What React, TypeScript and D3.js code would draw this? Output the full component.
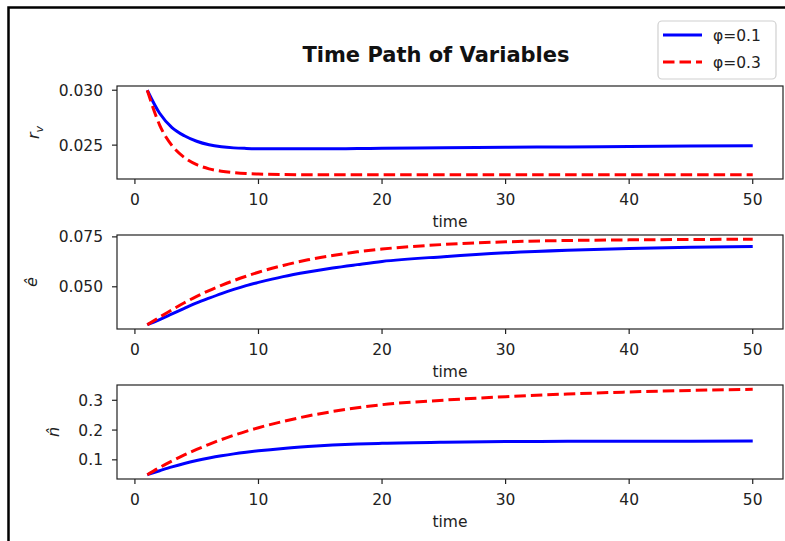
import React from 'react';
import * as d3 from 'd3';

// time steps (denser where the curves bend)
const times = [1, 2, 3, 4, 5, 6, 7, 8, 9, 10, 12, 14, 16, 18, 20, 25, 30, 35, 40, 45, 50];

// r_v
const rvLow = [0.0300, 0.0279, 0.0266, 0.02585, 0.02535, 0.02503, 0.02485, 0.02475, 0.0247, 0.02467, 0.02466, 0.02466, 0.02467, 0.02469, 0.02471, 0.02476, 0.0248, 0.02484, 0.02488, 0.02491, 0.02494];
const rvHigh = [0.0300, 0.02683, 0.02496, 0.02387, 0.02322, 0.02284, 0.02262, 0.02249, 0.02241, 0.02237, 0.02232, 0.0223, 0.0223, 0.0223, 0.0223, 0.0223, 0.0223, 0.0223, 0.0223, 0.0223, 0.0223];

// e hat
const eLow = [0.0310, 0.0336, 0.0364, 0.0392, 0.0419, 0.0443, 0.0466, 0.0487, 0.0506, 0.0522, 0.0551, 0.0574, 0.0594, 0.0611, 0.0627, 0.0651, 0.0670, 0.0683, 0.0692, 0.0698, 0.0702];
const eHigh = [0.0310, 0.0348, 0.0385, 0.0420, 0.0452, 0.0481, 0.0507, 0.0531, 0.0553, 0.0573, 0.0607, 0.0635, 0.0657, 0.0675, 0.0689, 0.0712, 0.0725, 0.0732, 0.0735, 0.0737, 0.0738];

// n hat
const nLow = [0.050, 0.0635, 0.0765, 0.0878, 0.0975, 0.1060, 0.1135, 0.1200, 0.1255, 0.1303, 0.1383, 0.1445, 0.1495, 0.1530, 0.1556, 0.1593, 0.1612, 0.1621, 0.1626, 0.1628, 0.1630];
const nHigh = [0.050, 0.0742, 0.0961, 0.1164, 0.1350, 0.1521, 0.1680, 0.1825, 0.1957, 0.2078, 0.2291, 0.2473, 0.2624, 0.2750, 0.2852, 0.3005, 0.3120, 0.3210, 0.3280, 0.3330, 0.3370];

const xTicks = [0, 10, 20, 30, 40, 50];
const rvTicks = [0.025, 0.030];
const eTicks = [0.050, 0.075];
const nTicks = [0.1, 0.2, 0.3];
const legendLabels = ['φ=0.1', 'φ=0.3'];

const W = 785;
const H = 541;
const left = 117;
const right = 783;
const font = "'DejaVu Sans', sans-serif";

const panels = [
  { top: 86, bottom: 179, low: rvLow, high: rvHigh, ticks: rvTicks, fmt: d3.format('.3f'), label: 'rv', lx: 33 },
  { top: 235, bottom: 329, low: eLow, high: eHigh, ticks: eTicks, fmt: d3.format('.3f'), label: 'e', lx: 31 },
  { top: 385, bottom: 479, low: nLow, high: nHigh, ticks: nTicks, fmt: d3.format('.1f'), label: 'n', lx: 53 },
];

const x = d3.scaleLinear().domain([1 - 49 * 0.05, 50 + 49 * 0.05]).range([left, right]);

function YLabel({ kind, lx, cy }) {
  const t = `translate(${lx},${cy}) rotate(-90)`;
  if (kind === 'rv') {
    return (
      <text transform={t} textAnchor="middle" dy="0.35em" fontFamily={font} fontStyle="italic" fontSize={16} fill="#222">
        r<tspan fontSize={11} dy="4">v</tspan>
      </text>
    );
  }
  return (
    <text transform={t} textAnchor="middle" dy="0.35em" fontFamily={font} fontStyle="italic" fontSize={16} fill="#222">
      {kind === 'e' ? 'ê' : 'n\u0302'}
    </text>
  );
}

function Panel({ p }) {
  const all = p.low.concat(p.high);
  const lo = d3.min(all);
  const hi = d3.max(all);
  const pad = (hi - lo) * 0.05;
  const y = d3.scaleLinear().domain([lo - pad, hi + pad]).range([p.bottom, p.top]);
  const line = d3.line<number>()
    .x((_, i) => x(times[i]))
    .y((d) => y(d))
    .curve(d3.curveMonotoneX);
  return (
    <g>
      <path d={line(p.low)} fill="none" stroke="#0000ff" strokeWidth={3} />
      <path d={line(p.high)} fill="none" stroke="#ff0000" strokeWidth={3} strokeDasharray="11.5 5" />
      <rect x={left} y={p.top} width={right - left} height={p.bottom - p.top} fill="none" stroke="#222" strokeWidth={1.2} />
      {xTicks.map((t) => (
        <g key={t}>
          <line x1={x(t)} x2={x(t)} y1={p.bottom} y2={p.bottom + 5} stroke="#222" strokeWidth={1.2} />
          <text x={x(t)} y={p.bottom + 26} textAnchor="middle" fontFamily={font} fontSize={15.5} fill="#222">{t}</text>
        </g>
      ))}
      {p.ticks.map((t) => (
        <g key={t}>
          <line x1={left - 5} x2={left} y1={y(t)} y2={y(t)} stroke="#222" strokeWidth={1.2} />
          <text x={left - 14} y={y(t)} dy="0.36em" textAnchor="end" fontFamily={font} fontSize={15.5} fill="#222">{p.fmt(t)}</text>
        </g>
      ))}
      <text x={(left + right) / 2} y={p.bottom + 48} textAnchor="middle" fontFamily={font} fontSize={15.5} fill="#222">time</text>
      <YLabel kind={p.label} lx={p.lx} cy={(p.top + p.bottom) / 2} />
    </g>
  );
}

export default function App() {
  return (
    <svg width={W} height={H} style={{ position: 'absolute', left: 0, top: 0, background: '#fff' }}>
      <rect x={0} y={0} width={W} height={H} fill="#fff" />
      <rect x={8.5} y={7.5} width={W + 20} height={H + 20} fill="none" stroke="#000" strokeWidth={2.5} />
      <text x={436} y={62} textAnchor="middle" fontFamily={font} fontWeight="bold" fontSize={21} fill="#111">Time Path of Variables</text>
      {panels.map((p, i) => <Panel key={i} p={p} />)}
      <g>
        <rect x={658} y={21} width={118} height={58} rx={4} fill="#fff" stroke="#d0d0d0" strokeWidth={1.2} />
        <line x1={663} x2={702} y1={35} y2={35} stroke="#0000ff" strokeWidth={3} />
        <line x1={663} x2={702} y1={62} y2={62} stroke="#ff0000" strokeWidth={3} strokeDasharray="11.5 5" />
        {legendLabels.map((l, i) => (
          <text key={l} x={713} y={35 + i * 27} dy="0.36em" fontFamily={font} fontSize={15.5} fill="#222">{l}</text>
        ))}
      </g>
    </svg>
  );
}
